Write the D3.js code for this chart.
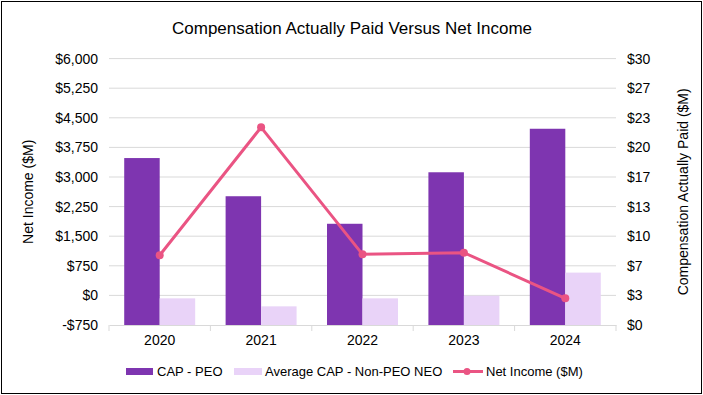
<!DOCTYPE html>
<html>
<head>
<meta charset="utf-8">
<script src="https://cdn.jsdelivr.net/npm/d3@7"></script>
<style>
body { margin: 0; background: #fff; }
svg { font-family: "Liberation Sans", Arial, sans-serif; }
</style>
</head>
<body>
<div class="container"></div>
<script>
var years = ["2020", "2021", "2022", "2023", "2024"];
var capPeo = [18.8, 14.5, 11.4, 17.2, 22.1];
var capNonPeo = [3.0, 2.1, 3.0, 3.3, 5.9];
var netIncome = [1016, 4259, 1041, 1082, -74];
var leftTicks = [-750, 0, 750, 1500, 2250, 3000, 3750, 4500, 5250, 6000];
var rightTicks = [0, 10/3, 20/3, 10, 40/3, 50/3, 20, 70/3, 80/3, 30];

var W = 703, H = 395;
var plotLeft = 109, plotRight = 616, plotTop = 58.6, plotBottom = 325;

var svg = d3.select('.container').append('svg')
  .attr('width', W)
  .attr('height', H);

svg.append('rect')
  .attr('x', 1.5).attr('y', 1.5)
  .attr('width', W - 3).attr('height', H - 3)
  .style('fill', 'none').style('stroke', '#000').style('stroke-width', 1);

var x = d3.scaleBand().domain(years).range([plotLeft, plotRight]);
var yL = d3.scaleLinear().domain([-750, 6000]).range([plotBottom, plotTop]);
var yR = d3.scaleLinear().domain([0, 30]).range([plotBottom, plotTop]);

// gridlines
svg.append('g')
  .selectAll('line')
  .data(leftTicks.slice(1))
  .enter().append('line')
  .attr('x1', plotLeft).attr('x2', plotRight)
  .attr('y1', d => yL(d)).attr('y2', d => yL(d))
  .style('stroke', '#d9d9d9').style('stroke-width', 1);

var fmtL = d => (d < 0 ? '-$' : '$') + d3.format(',')(Math.abs(d));
var yAxisL = d3.axisLeft(yL).tickValues(leftTicks).tickFormat(fmtL).tickSize(0).tickPadding(11);
svg.append('g')
  .attr('transform', 'translate(' + plotLeft + ',0)')
  .call(yAxisL)
  .call(g => g.select('.domain').remove())
  .selectAll('text').style('font-size', '14px').style('fill', '#000').style('font-family', 'Liberation Sans, Arial');

var yAxisR = d3.axisRight(yR).tickValues(rightTicks).tickFormat(d => '$' + Math.round(d)).tickSize(0).tickPadding(11);
svg.append('g')
  .attr('transform', 'translate(' + plotRight + ',0)')
  .call(yAxisR)
  .call(g => g.select('.domain').remove())
  .selectAll('text').style('font-size', '14px').style('fill', '#000').style('font-family', 'Liberation Sans, Arial');

// bars
var bw = x.bandwidth() * 0.35;
svg.append('g').selectAll('rect')
  .data(years)
  .enter().append('rect')
  .attr('x', (d) => x(d) + x.bandwidth() / 2 - bw)
  .attr('y', (d, i) => yR(capPeo[i]))
  .attr('width', bw)
  .attr('height', (d, i) => plotBottom - yR(capPeo[i]))
  .style('fill', '#7e35b0');

svg.append('g').selectAll('rect')
  .data(years)
  .enter().append('rect')
  .attr('x', (d) => x(d) + x.bandwidth() / 2)
  .attr('y', (d, i) => yR(capNonPeo[i]))
  .attr('width', bw)
  .attr('height', (d, i) => plotBottom - yR(capNonPeo[i]))
  .style('fill', '#e9d3f8');

// x axis
var xAxis = d3.axisBottom(x).tickSize(0).tickPadding(10);
var xg = svg.append('g')
  .attr('transform', 'translate(0,' + plotBottom + ')')
  .call(xAxis);
xg.select('.domain').style('stroke', '#d9d9d9');
xg.selectAll('text').style('font-size', '14px').style('fill', '#000').style('font-family', 'Liberation Sans, Arial');
xg.selectAll('.sep')
  .data(years.concat(['end']))
  .enter().append('line')
  .attr('x1', (d, i) => plotLeft + i * x.bandwidth())
  .attr('x2', (d, i) => plotLeft + i * x.bandwidth())
  .attr('y1', 0).attr('y2', 6)
  .style('stroke', '#d9d9d9');

// net income line
var line = d3.line()
  .x((d, i) => x(years[i]) + x.bandwidth() / 2)
  .y(d => yL(d));
svg.append('path')
  .datum(netIncome)
  .attr('d', line)
  .style('fill', 'none')
  .style('stroke', '#ea5483')
  .style('stroke-width', 3);

svg.append('g').selectAll('circle')
  .data(netIncome)
  .enter().append('circle')
  .attr('cx', (d, i) => x(years[i]) + x.bandwidth() / 2)
  .attr('cy', d => yL(d))
  .attr('r', 4)
  .style('fill', '#ea5483');

// titles
svg.append('text')
  .attr('x', 352).attr('y', 34)
  .attr('text-anchor', 'middle')
  .style('font-size', '17px')
  .text('Compensation Actually Paid Versus Net Income');

svg.append('text')
  .attr('transform', 'translate(33,' + (plotTop + plotBottom) / 2 + ') rotate(-90)')
  .attr('text-anchor', 'middle')
  .style('font-size', '14px')
  .text('Net Income ($M)');

svg.append('text')
  .attr('transform', 'translate(688,' + (plotTop + plotBottom) / 2 + ') rotate(-90)')
  .attr('text-anchor', 'middle')
  .style('font-size', '14px')
  .text('Compensation Actually Paid ($M)');

// legend
var legend = svg.append('g').attr('class', 'legend');
legend.append('rect')
  .attr('x', 126).attr('y', 368).attr('width', 27).attr('height', 7)
  .style('fill', '#7e35b0');
legend.append('text')
  .attr('x', 157).attr('y', 376).style('font-size', '13px')
  .text('CAP - PEO');
legend.append('rect')
  .attr('x', 234).attr('y', 368).attr('width', 28).attr('height', 7)
  .style('fill', '#e9d3f8');
legend.append('text')
  .attr('x', 265).attr('y', 376).style('font-size', '13px')
  .text('Average CAP - Non-PEO NEO');
legend.append('line')
  .attr('x1', 453).attr('x2', 483).attr('y1', 371.5).attr('y2', 371.5)
  .style('stroke', '#ea5483').style('stroke-width', 3);
legend.append('circle')
  .attr('cx', 467).attr('cy', 371.5).attr('r', 3.5)
  .style('fill', '#ea5483');
legend.append('text')
  .attr('x', 486).attr('y', 376).style('font-size', '13px')
  .text('Net Income ($M)');
</script>
</body>
</html>
